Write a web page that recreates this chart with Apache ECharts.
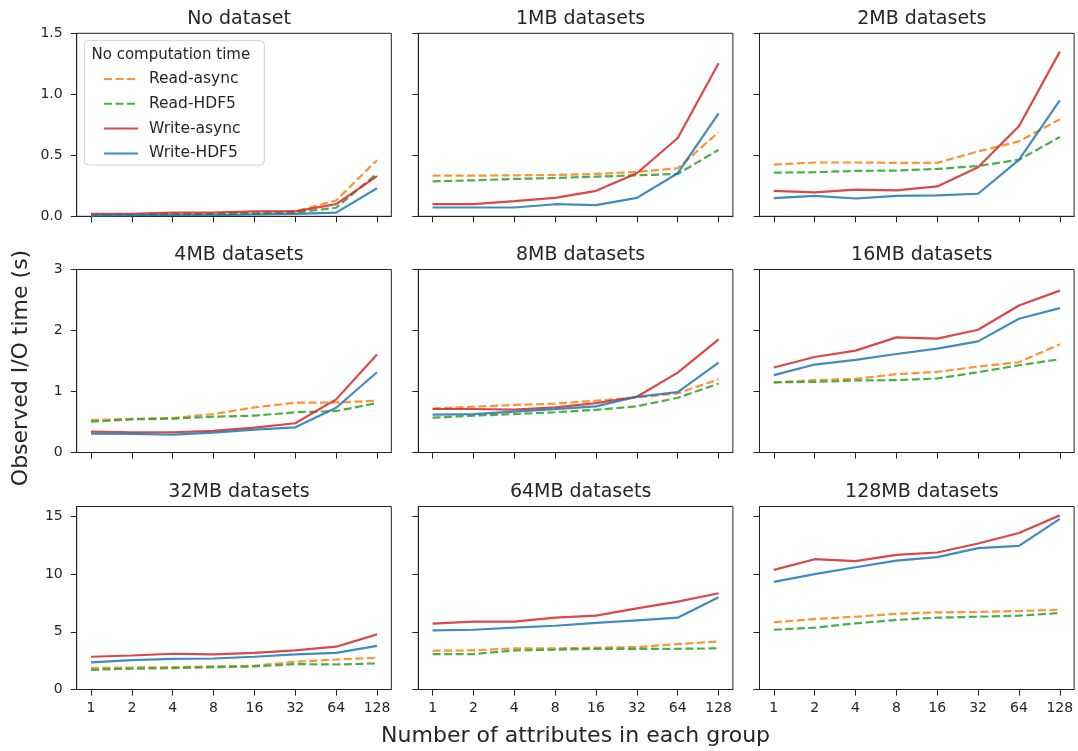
<!DOCTYPE html>
<html>
<head>
<meta charset="utf-8">
<script src="https://cdn.jsdelivr.net/npm/echarts@6/dist/echarts.min.js"></script>
<style>
html,body{margin:0;padding:0;background:#fff;}
#chart{width:1078px;height:751px;}
</style>
</head>
<body>
<div id="chart"></div>
<script>
// ---- data ----
const categories = ['1', '2', '4', '8', '16', '32', '64', '128'];
const panelTitles = ['No dataset', '1MB datasets', '2MB datasets',
                     '4MB datasets', '8MB datasets', '16MB datasets',
                     '32MB datasets', '64MB datasets', '128MB datasets'];
const seriesNames = ['Read-async', 'Read-HDF5', 'Write-async', 'Write-HDF5'];
const legendTitle = 'No computation time';
const xAxisTitle = 'Number of attributes in each group';
const yAxisTitle = 'Observed I/O time (s)';

const rowYTicks = [[0, 0.5, 1.0, 1.5], [0, 1, 2, 3], [0, 5, 10, 15]];
const rowYMax = [1.5, 3, 15.87];

const readAsync = [
  [0.01, 0.015, 0.02, 0.02, 0.03, 0.04, 0.13, 0.46],
  [0.333, 0.333, 0.336, 0.339, 0.347, 0.364, 0.394, 0.69],
  [0.424, 0.441, 0.441, 0.438, 0.438, 0.532, 0.614, 0.796],
  [0.533, 0.55, 0.566, 0.631, 0.74, 0.816, 0.821, 0.848],
  [0.72, 0.75, 0.78, 0.80, 0.85, 0.90, 0.97, 1.20],
  [1.148, 1.186, 1.207, 1.284, 1.321, 1.409, 1.48, 1.773],
  [1.85, 1.91, 1.94, 2.0, 2.06, 2.4, 2.6, 2.75],
  [3.36, 3.39, 3.57, 3.57, 3.62, 3.68, 3.94, 4.17],
  [5.83, 6.11, 6.31, 6.57, 6.69, 6.72, 6.81, 6.92]
];
const readHDF5 = [
  [0.01, 0.01, 0.015, 0.02, 0.02, 0.03, 0.07, 0.35],
  [0.287, 0.295, 0.306, 0.314, 0.325, 0.336, 0.347, 0.545],
  [0.358, 0.361, 0.372, 0.375, 0.388, 0.413, 0.463, 0.65],
  [0.506, 0.544, 0.555, 0.587, 0.604, 0.659, 0.68, 0.81],
  [0.571, 0.603, 0.63, 0.66, 0.70, 0.757, 0.897, 1.13],
  [1.15, 1.158, 1.18, 1.186, 1.213, 1.316, 1.43, 1.529],
  [1.71, 1.8, 1.85, 1.94, 2.0, 2.2, 2.17, 2.26],
  [3.07, 3.07, 3.39, 3.45, 3.53, 3.53, 3.53, 3.57],
  [5.18, 5.36, 5.74, 6.03, 6.23, 6.31, 6.4, 6.63]
];
const writeAsync = [
  [0.02, 0.02, 0.03, 0.03, 0.04, 0.04, 0.1, 0.33],
  [0.099, 0.10, 0.124, 0.151, 0.209, 0.353, 0.642, 1.254],
  [0.209, 0.196, 0.218, 0.212, 0.245, 0.402, 0.738, 1.35],
  [0.343, 0.332, 0.332, 0.354, 0.408, 0.48, 0.871, 1.605],
  [0.713, 0.713, 0.702, 0.74, 0.81, 0.914, 1.31, 1.855],
  [1.393, 1.566, 1.67, 1.887, 1.866, 2.013, 2.41, 2.654],
  [2.84, 2.95, 3.1, 3.04, 3.18, 3.39, 3.71, 4.78],
  [5.71, 5.88, 5.88, 6.23, 6.4, 7.04, 7.62, 8.35],
  [10.37, 11.3, 11.13, 11.68, 11.88, 12.66, 13.57, 15.1]
];
const writeHDF5 = [
  [0.005, 0.01, 0.01, 0.01, 0.015, 0.02, 0.03, 0.23],
  [0.072, 0.072, 0.072, 0.099, 0.091, 0.151, 0.353, 0.843],
  [0.149, 0.168, 0.146, 0.168, 0.171, 0.185, 0.463, 0.95],
  [0.31, 0.304, 0.294, 0.326, 0.375, 0.413, 0.734, 1.316],
  [0.62, 0.63, 0.67, 0.71, 0.757, 0.914, 0.99, 1.474],
  [1.268, 1.442, 1.517, 1.615, 1.703, 1.822, 2.192, 2.366],
  [2.35, 2.55, 2.66, 2.69, 2.84, 3.04, 3.18, 3.79],
  [5.13, 5.18, 5.36, 5.53, 5.77, 6.0, 6.23, 8.0],
  [9.33, 10.0, 10.6, 11.18, 11.48, 12.26, 12.46, 14.8]
];

// ---- styling / layout ----
const FONT = 'DejaVu Sans';
const TEXT = '#262626';
const SPINE = '#222';
const colors = ['rgba(255,127,14,0.85)', 'rgba(44,160,44,0.85)', 'rgba(214,39,40,0.85)', 'rgba(31,119,180,0.85)'];
const dashes = [[8, 3.5], [8, 3.5], 'solid', 'solid'];
const allSeries = [readAsync, readHDF5, writeAsync, writeHDF5];

const colLeft = [76.7, 418.3, 759.5];
const colWidth = 314.6;
const rowTop = [33.3, 269.5, 506.5];
const rowHeight = 183;

const grids = [], xAxes = [], yAxes = [], series = [], titles = [];
const tickIdx = categories.map((c, i) => i);

for (let p = 0; p < 9; p++) {
  const r = Math.floor(p / 3), c = p % 3;
  grids.push({
    left: colLeft[c], top: rowTop[r], width: colWidth, height: rowHeight,
    show: true, borderColor: SPINE, borderWidth: 1, backgroundColor: 'transparent',
    containLabel: false, outerBoundsMode: 'none'
  });
  const xa = {
    gridIndex: p, type: 'value', min: -0.35, max: categories.length - 1 + 0.35,
    splitLine: { show: false },
    axisLine: { show: true, onZero: false, lineStyle: { color: SPINE, width: 1 } },
    axisTick: { show: true, inside: false, length: 6, customValues: tickIdx, lineStyle: { color: SPINE, width: 1 } },
    axisLabel: {
      show: r === 2, customValues: tickIdx, margin: 12,
      fontFamily: FONT, fontSize: 14, color: TEXT,
      formatter: v => categories[Math.round(v)]
    }
  };
  if (p === 7) {
    xa.name = xAxisTitle;
    xa.nameLocation = 'middle';
    xa.nameGap = 36;
    xa.nameTextStyle = { fontFamily: FONT, fontSize: 22, color: TEXT };
  }
  xAxes.push(xa);
  yAxes.push({
    gridIndex: p, type: 'value', min: 0, max: rowYMax[r],
    splitLine: { show: false },
    axisLine: { show: true, onZero: false, lineStyle: { color: SPINE, width: 1 } },
    axisTick: { show: true, inside: false, length: 6, customValues: rowYTicks[r], lineStyle: { color: SPINE, width: 1 } },
    axisLabel: {
      show: c === 0, customValues: rowYTicks[r], margin: 14,
      fontFamily: FONT, fontSize: 14, color: TEXT,
      formatter: v => (r === 0 ? v.toFixed(1) : String(Math.round(v)))
    }
  });
  titles.push({
    text: panelTitles[p],
    left: colLeft[c] + colWidth / 2, top: rowTop[r] - 28.5,
    textAlign: 'center',
    textStyle: { fontFamily: FONT, fontSize: 19, fontWeight: 'normal', color: TEXT }
  });
  for (let s = 0; s < 4; s++) {
    series.push({
      type: 'line', name: seriesNames[s], xAxisIndex: p, yAxisIndex: p,
      data: allSeries[s][p].map((v, i) => [i, v]),
      symbol: 'none', showSymbol: false, silent: true, animation: false,
      lineStyle: { color: colors[s], width: 2.2, type: dashes[s] },
      itemStyle: { color: colors[s] },
      z: 2 + s
    });
  }
}

const option = {
  backgroundColor: '#fff',
  animation: false,
  title: titles,
  grid: grids,
  xAxis: xAxes,
  yAxis: yAxes,
  legend: {
    data: seriesNames,
    orient: 'vertical',
    left: 103, top: 71,
    padding: 0,
    itemWidth: 34, itemHeight: 14, itemGap: 8.8,
    selectedMode: false,
    itemStyle: { opacity: 0, borderWidth: 0 },
    textStyle: { fontFamily: FONT, fontSize: 15.5, color: TEXT, padding: [0, 0, 0, 6] },
    z: 10
  },
  graphic: [
    {
      type: 'rect', z: 5, silent: true,
      shape: { x: 84.3, y: 40.7, width: 180, height: 124.3, r: 4 },
      style: { fill: 'rgba(255,255,255,0.85)', stroke: '#d0d0d0', lineWidth: 1 }
    },
    {
      type: 'text', z: 6, silent: true,
      style: { text: legendTitle, x: 91.5, y: 55.5, textAlign: 'left', textVerticalAlign: 'middle',
               fontFamily: FONT, fontSize: 15, fill: TEXT }
    },
    {
      type: 'text', z: 6, silent: true, rotation: Math.PI / 2, x: 21, y: 368,
      style: { text: yAxisTitle, x: 0, y: 0, textAlign: 'center', textVerticalAlign: 'middle',
               fontFamily: FONT, fontSize: 22, fill: TEXT }
    }
  ],
  series: series
};

const chart = echarts.init(document.getElementById('chart'), null, { renderer: 'canvas' });
chart.setOption(option);
</script>
</body>
</html>
